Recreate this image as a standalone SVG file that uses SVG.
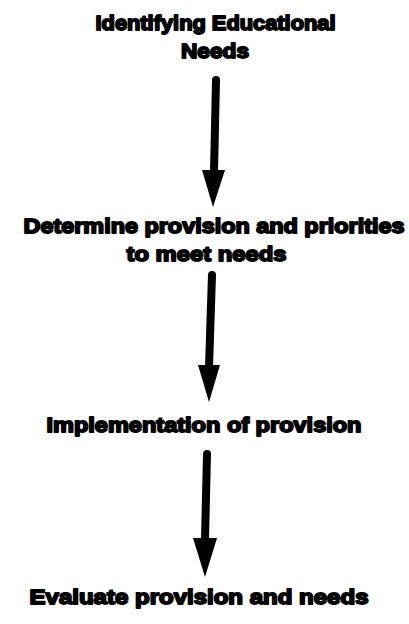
<svg xmlns="http://www.w3.org/2000/svg" width="409" height="624" viewBox="0 0 409 624">
<style>
.t{font-family:"Liberation Sans",Arial,sans-serif;font-weight:bold;font-size:21px;fill:#000;stroke:#000;stroke-width:1.8;stroke-linejoin:round;text-anchor:middle}
.s{stroke:#000;stroke-width:8;stroke-linecap:round;fill:none}
</style>
<rect width="409" height="624" fill="#fff"/>
<g id="n1"><text class="t" x="215.5" y="30" textLength="240" lengthAdjust="spacingAndGlyphs">Identifying Educational</text><text class="t" x="215" y="58" textLength="68" lengthAdjust="spacingAndGlyphs">Needs</text></g>
<g id="n2"><text class="t" x="214" y="233" textLength="381" lengthAdjust="spacingAndGlyphs">Determine provision and priorities</text><text class="t" x="206.5" y="261" textLength="160" lengthAdjust="spacingAndGlyphs">to meet needs</text></g>
<g id="n3"><text class="t" x="204" y="432" textLength="315" lengthAdjust="spacingAndGlyphs">Implementation of provision</text></g>
<g id="n4"><text class="t" x="199" y="604" textLength="339" lengthAdjust="spacingAndGlyphs">Evaluate provision and needs</text></g>
<g id="connectors">
<line class="s" x1="216" y1="80" x2="214" y2="172"/><polygon points="202,170 225,170 213,207"/>
<line class="s" x1="212" y1="275" x2="209" y2="367"/><polygon points="198,365 220,365 209,402"/>
<line class="s" x1="207" y1="454" x2="205" y2="540"/><polygon points="193,538 217,538 205,577"/>
</g>
</svg>
